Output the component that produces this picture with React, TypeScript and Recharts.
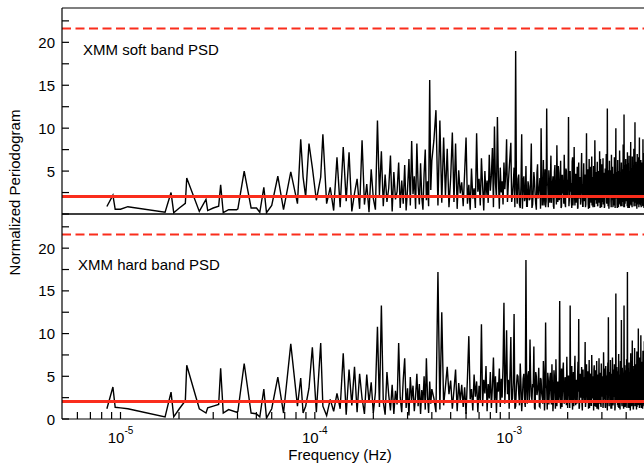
import { LineChart, Line, XAxis, YAxis, ReferenceLine } from "recharts";

// irregular low-frequency bins (Hz)
const LOW_FREQ = [
  8.51e-6, 9.14e-6, 9.39e-6, 1.0e-5, 1.091e-5, 1.696e-5, 1.82e-5, 1.879e-5, 2.008e-5, 2.156e-5,
  2.192e-5, 2.544e-5, 2.754e-5, 2.81e-5, 3.0e-5, 3.2e-5, 3.276e-5, 3.378e-5, 3.6e-5, 3.957e-5,
  4.018e-5, 4.33e-5, 4.7e-5, 5.01e-5, 5.21e-5, 5.465e-5, 5.64e-5, 6.0e-5, 6.45e-5, 6.9e-5,
  7.52e-5, 8.14e-5, 8.46e-5, 8.7e-5, 8.97e-5, 9.33e-5, 9.71e-5, 1.018e-4, 1.072e-4,
];

// evenly spaced Fourier bins above 1.1e-4 Hz
const BINS_B = { start: 1.1e-4, step: 5e-6, count: 59 };
const BINS_C = { start: 4.1e-4, step: 1e-5, count: 60 };
const BINS_D = { start: 1.02e-3, step: 2e-5, count: 200 };
const BINS_D_ODD = { start: 1.03e-3, step: 2e-5, count: 199 };

// soft band powers
const SOFT_LOW = [
  0.87, 2.2, 0.55, 0.55, 0.85, 0.2, 2.5, 0.15, 0.7, 1.25,
  4.2, 0.3, 1.7, 0.4, 0.7, 0.9, 3.4, 0.15, 0.5, 0.5,
  0.6, 5.0, 0.7, 0.7, 0.2, 3.1, 0.15, 1.0, 4.4, 0.5,
  4.9, 1.2, 8.7, 4.3, 2.0, 8.2, 5.4, 1.6, 4.3,
];
const SOFT_B = [
  9.3, 1.2, 3.1, 0.4, 6.6, 0.8, 7.8, 1.5, 7.2, 0.3,
  2.4, 4.1, 0.6, 8.6, 1.1, 3.5, 0.2, 5.2, 1.8, 0.5,
  10.9, 2.2, 7.3, 0.9, 4.6, 1.4, 3.0, 6.8, 0.3, 4.9,
  1.7, 2.6, 6.0, 0.7, 3.9, 1.2, 5.7, 0.4, 2.9, 6.4,
  1.0, 8.5, 2.3, 4.4, 0.6, 8.2, 3.3, 1.1, 5.9, 2.0,
  0.5, 4.7, 7.5, 1.6, 3.8, 0.9, 15.6, 2.8, 6.2,
];
const SOFT_C = [
  8.6, 12.1, 1.0, 10.9, 1.3, 8.9, 2.1, 7.6, 0.8, 4.2,
  9.5, 1.4, 8.2, 0.6, 5.1, 2.4, 3.7, 0.9, 4.8, 8.9,
  1.2, 3.4, 0.5, 5.3, 1.8, 3.0, 0.7, 9.4, 2.6, 4.1,
  1.0, 6.5, 3.2, 0.4, 5.0, 2.2, 3.9, 1.3, 6.9, 2.7,
  4.5, 7.7, 0.8, 10.2, 3.6, 1.9, 11.3, 4.3, 0.6, 5.4,
  2.5, 3.8, 1.1, 6.0, 2.9, 4.7, 8.7, 1.4, 3.5, 5.2,
];
const SOFT_D = [
  8.3, 2.1, 5.4, 19.0, 1.2, 4.6, 0.7, 9.3, 3.8, 1.5,
  5.6, 0.9, 3.2, 1.8, 8.2, 1.1, 4.9, 2.3, 0.5, 5.8,
  2.7, 4.2, 10.0, 1.0, 6.3, 2.9, 0.8, 12.3, 3.4, 5.1,
  1.3, 6.8, 2.5, 4.4, 0.6, 5.7, 3.1, 8.0, 1.4, 4.8,
  2.0, 6.2, 0.9, 4.5, 3.3, 6.9, 1.2, 5.3, 2.6, 4.0,
  11.3, 1.7, 5.0, 3.6, 0.7, 6.6, 2.4, 7.8, 1.0, 4.7,
  3.0, 5.5, 0.8, 6.0, 2.2, 4.3, 1.5, 7.1, 3.5, 0.9,
  5.9, 2.8, 4.6, 1.1, 9.4, 3.2, 5.2, 0.6, 6.4, 2.5,
  4.1, 1.3, 6.7, 3.8, 0.8, 5.6, 2.9, 8.6, 1.6, 4.9,
  3.4, 6.1, 1.0, 5.0, 2.7, 7.3, 0.7, 4.5, 3.1, 5.8,
  1.4, 6.5, 2.3, 4.8, 0.9, 5.3, 3.6, 7.0, 1.2, 12.3,
  2.8, 5.1, 0.6, 6.2, 3.9, 4.4, 1.5, 6.9, 2.1, 5.5,
  0.8, 4.7, 3.0, 6.6, 1.3, 5.4, 10.0, 2.4, 4.9, 0.7,
  6.3, 3.3, 5.0, 1.1, 7.4, 2.6, 4.6, 0.9, 6.0, 3.7,
  5.2, 1.4, 8.1, 2.9, 11.6, 0.8, 5.7, 3.5, 6.4, 1.6,
  4.8, 2.2, 7.2, 0.7, 5.9, 3.1, 6.8, 1.2, 4.5, 2.7,
  8.4, 1.0, 5.3, 3.8, 6.7, 1.5, 4.9, 2.4, 7.6, 0.9,
  5.6, 10.7, 1.8, 6.1, 3.2, 4.4, 0.6, 7.0, 2.8, 5.1,
  1.3, 6.6, 3.6, 8.9, 1.1, 5.4, 2.5, 6.3, 0.8, 4.7,
  3.9, 6.0, 1.6, 8.7, 2.3, 5.8, 0.7, 7.1, 3.0, 5.0,
];
const SOFT_D_ODD = [
  1.4, 3.6, 0.8, 2.9, 4.1, 1.1, 3.3, 0.6, 4.4, 2.0,
  0.9, 3.8, 1.6, 4.6, 0.7, 2.7, 3.9, 1.2, 4.8, 1.8,
  3.1, 0.6, 4.3, 2.2, 1.0, 5.2, 1.5, 3.4, 0.8, 2.6,
  4.0, 1.3, 3.5, 0.9, 4.9, 2.1, 1.1, 3.7, 5.6, 1.6,
  3.2, 0.7, 4.5, 2.4, 1.2, 3.9, 0.8, 5.0, 1.9, 3.0,
  0.9, 4.2, 2.6, 1.4, 6.1, 1.0, 3.5, 2.2, 4.4, 1.3,
  2.8, 0.6, 4.7, 1.8, 3.6, 1.1, 5.3, 2.4, 0.9, 3.8,
  1.5, 4.1, 0.8, 3.3, 2.0, 4.6, 1.2, 3.0, 0.7, 5.5,
  2.3, 3.7, 1.0, 4.3, 1.6, 2.9, 0.8, 4.9, 2.5, 1.2,
  3.9, 0.9, 4.4, 2.1, 1.3, 3.4, 6.4, 1.7, 0.8, 3.6,
  2.6, 1.1, 4.0, 0.7, 3.2, 1.9, 4.7, 1.4, 2.8, 3.5,
  0.9, 4.6, 1.5, 3.1, 2.0, 5.1, 0.8, 3.8, 1.6, 2.7,
  4.2, 1.0, 3.5, 2.3, 0.7, 4.8, 1.8, 3.0, 1.1, 4.4,
  2.5, 0.8, 3.9, 1.4, 5.4, 2.1, 1.0, 3.6, 2.8, 0.9,
  4.3, 1.7, 3.2, 0.8, 4.9, 2.4, 1.2, 3.7, 1.5, 5.8,
  2.0, 0.9, 4.1, 1.6, 3.3, 2.7, 0.7, 4.5, 1.9, 3.0,
  1.2, 4.7, 2.2, 0.8, 3.8, 1.5, 5.0, 2.6, 1.0, 3.4,
  4.0, 1.3, 2.9, 0.9, 4.6, 2.0, 3.5, 1.1, 6.2, 1.8,
  3.1, 0.8, 4.4, 2.3, 1.4, 3.9, 1.0, 4.8, 2.1, 3.3,
  1.5, 4.2, 0.9, 3.6, 2.7, 1.2, 4.5, 2.0, 3.8,
];

// hard band powers
const HARD_LOW = [
  1.2, 3.75, 1.37, 1.3, 1.2, 0.25, 3.15, 0.25, 1.2, 2.15,
  6.3, 1.2, 0.7, 1.3, 1.5, 1.7, 5.95, 0.7, 1.1, 0.8,
  0.9, 6.5, 0.7, 0.6, 0.25, 3.5, 0.1, 1.2, 4.9, 0.7,
  8.8, 1.5, 4.8, 0.7, 1.5, 3.6, 8.4, 0.8, 8.9,
];
const HARD_B = [
  1.5, 0.4, 2.3, 0.9, 3.0, 1.2, 7.7, 0.5, 5.8, 1.6,
  6.1, 0.8, 5.3, 2.4, 0.6, 5.2, 1.9, 4.3, 0.7, 3.1,
  10.8, 1.4, 13.3, 2.0, 0.5, 5.5, 2.8, 1.0, 4.0, 0.6,
  3.3, 1.7, 8.9, 2.5, 0.8, 4.6, 7.1, 1.3, 3.6, 0.4,
  4.9, 2.2, 3.9, 0.9, 2.7, 5.3, 1.5, 4.1, 0.6, 3.4,
  2.0, 5.0, 1.1, 7.1, 2.6, 0.7, 4.4, 1.8, 3.5,
];
const HARD_C = [
  2.4, 0.8, 17.2, 1.1, 12.5, 1.6, 3.8, 6.1, 2.9, 4.5,
  1.2, 3.4, 5.8, 0.9, 4.2, 2.1, 4.0, 1.4, 3.7, 0.6,
  4.8, 9.7, 2.3, 3.5, 1.0, 5.2, 2.6, 4.4, 0.8, 3.9,
  2.0, 11.1, 1.5, 4.6, 3.0, 6.2, 0.9, 4.1, 2.4, 5.5,
  1.3, 3.8, 7.2, 2.1, 5.0, 0.7, 4.3, 3.2, 5.9, 1.4,
  4.7, 2.5, 6.3, 13.6, 1.8, 5.1, 10.4, 2.9, 4.6, 1.2,
];
const HARD_D = [
  9.6, 2.4, 12.3, 1.5, 5.2, 3.0, 6.5, 0.9, 4.7, 2.2,
  18.6, 1.8, 5.6, 9.3, 2.7, 4.1, 8.5, 1.1, 5.0, 3.3,
  6.0, 1.4, 4.6, 2.5, 6.8, 1.0, 11.3, 3.6, 5.4, 1.7,
  4.8, 2.9, 6.4, 0.9, 5.7, 3.2, 7.0, 1.5, 4.4, 2.6,
  13.8, 1.2, 5.9, 3.5, 6.6, 1.8, 4.9, 2.8, 7.3, 1.3,
  5.1, 3.4, 13.3, 2.0, 6.2, 1.1, 5.5, 3.0, 7.4, 1.6,
  4.6, 2.3, 6.7, 11.7, 1.4, 5.3, 3.7, 6.1, 1.0, 5.8,
  2.7, 4.9, 9.0, 1.9, 6.4, 3.1, 5.6, 1.2, 6.9, 2.5,
  5.2, 1.6, 7.5, 3.3, 5.0, 1.0, 6.3, 2.8, 5.7, 1.4,
  6.8, 3.6, 4.8, 1.1, 7.1, 2.4, 5.4, 1.7, 6.5, 3.2,
  5.0, 1.3, 7.8, 2.6, 5.9, 1.5, 6.2, 3.4, 5.1, 1.0,
  6.6, 11.9, 2.1, 5.5, 3.8, 6.9, 1.2, 5.3, 2.9, 7.2,
  1.6, 5.8, 3.1, 6.4, 1.0, 5.0, 14.7, 2.2, 6.1, 3.5,
  5.6, 1.4, 7.6, 2.7, 5.2, 1.1, 6.8, 3.3, 11.6, 1.8,
  6.0, 2.5, 5.4, 1.2, 13.3, 3.0, 6.3, 1.6, 5.7, 2.4,
  7.0, 1.3, 17.2, 2.8, 5.9, 1.5, 6.6, 3.4, 5.1, 1.0,
  7.7, 2.6, 5.5, 1.7, 9.2, 3.1, 6.2, 1.2, 5.8, 2.9,
  8.3, 1.5, 6.4, 3.5, 5.0, 1.1, 7.9, 2.7, 6.1, 1.6,
  10.6, 3.2, 5.6, 1.3, 7.2, 2.5, 6.0, 9.8, 1.4, 5.3,
  2.8, 6.7, 1.2, 8.0, 3.6, 5.5, 1.7, 9.1, 2.3, 6.2,
];
const HARD_D_ODD = [
  2.1, 4.3, 1.2, 3.8, 5.0, 1.6, 4.1, 2.5, 5.3, 1.4,
  3.4, 5.1, 1.9, 4.6, 2.2, 3.7, 1.3, 5.5, 2.8, 4.0,
  1.5, 4.8, 3.0, 1.8, 5.2, 2.4, 3.9, 1.1, 4.5, 3.2,
  5.4, 1.7, 3.6, 2.3, 4.9, 1.2, 4.2, 3.1, 1.9, 5.0,
  2.6, 4.4, 1.4, 5.6, 3.3, 2.0, 4.7, 1.6, 3.8, 2.9,
  4.6, 1.3, 3.5, 5.2, 2.1, 4.0, 1.5, 5.7, 2.7, 3.9,
  1.8, 5.1, 3.2, 1.2, 4.8, 2.5, 4.1, 1.7, 5.4, 3.0,
  2.2, 4.5, 1.4, 5.0, 3.6, 1.9, 4.3, 2.8, 1.3, 5.3,
  3.7, 1.6, 4.9, 2.4, 3.4, 5.8, 1.5, 4.2, 2.0, 3.9,
  1.2, 5.2, 2.9, 4.4, 1.8, 3.5, 5.0, 1.4, 4.6, 2.6,
  3.8, 1.9, 5.5, 2.3, 4.1, 1.3, 4.8, 3.1, 1.7, 5.1,
  2.7, 4.3, 1.5, 5.0, 3.3, 2.0, 4.7, 1.2, 3.9, 5.4,
  1.8, 4.0, 2.6, 5.3, 1.4, 3.7, 4.5, 2.2, 5.1, 1.6,
  3.4, 4.9, 1.3, 4.2, 2.8, 5.6, 1.9, 3.6, 4.4, 1.5,
  5.2, 2.4, 3.9, 1.7, 4.6, 3.0, 1.4, 5.0, 2.5, 4.1,
  1.6, 5.3, 3.2, 2.0, 4.8, 1.3, 4.3, 2.9, 5.5, 1.8,
  3.7, 4.5, 1.5, 5.1, 2.6, 3.9, 1.2, 4.7, 3.3, 2.1,
  5.4, 1.7, 4.2, 2.8, 3.6, 5.0, 1.4, 4.4, 2.3, 3.8,
  1.9, 5.2, 3.0, 4.6, 1.6, 4.0, 2.7, 5.6, 1.3, 4.3,
  3.5, 2.2, 5.1, 1.5, 4.8, 3.1, 1.8, 5.3, 2.6,
];

const NOISE_LEVEL = 2.05;
const CONF_LEVEL = 21.6;

const X_TICKS = [
  6e-6, 7e-6, 8e-6, 9e-6,
  1e-5, 2e-5, 3e-5, 4e-5, 5e-5, 6e-5, 7e-5, 8e-5, 9e-5,
  1e-4, 2e-4, 3e-4, 4e-4, 5e-4, 6e-4, 7e-4, 8e-4, 9e-4,
  1e-3, 2e-3, 3e-3, 4e-3,
];
const Y_TICKS = [0, 2.5, 5, 7.5, 10, 12.5, 15, 17.5, 20, 22.5];

const FONT = "'Liberation Sans', Arial, Helvetica, sans-serif";
const RED = "#fa2d1c";
const TICK_IN = -7; // negative tick size: ticks point into the plot

const bins = (b: { start: number; step: number; count: number }) =>
  Array.from({ length: b.count }, (_, i) => b.start + i * b.step);

function buildSeries(low: number[], b: number[], c: number[], d: number[], dOdd: number[]) {
  const pairs = (freqs: number[], powers: number[]) => freqs.map((f, i) => ({ f, p: powers[i] }));
  return [
    ...pairs(LOW_FREQ, low),
    ...pairs(bins(BINS_B), b),
    ...pairs(bins(BINS_C), c),
    ...pairs(bins(BINS_D), d),
    ...pairs(bins(BINS_D_ODD), dOdd),
  ].sort((a, z) => a.f - z.f);
}

const softData = buildSeries(SOFT_LOW, SOFT_B, SOFT_C, SOFT_D, SOFT_D_ODD);
const hardData = buildSeries(HARD_LOW, HARD_B, HARD_C, HARD_D, HARD_D_ODD);

const isDecade = (v: number) => Math.abs(Math.log10(v) - Math.round(Math.log10(v))) < 1e-6;

// decade labels 10^n under the bottom frame
function XLabel(props: any) {
  const { x, y, payload } = props;
  const v = payload.value;
  if (!isDecade(v)) return <g />;
  return (
    <text x={Number(x)} y={Number(y) - TICK_IN + 24} textAnchor="middle" fontSize={15} fontFamily={FONT} fill="#000">
      <tspan>10</tspan>
      <tspan dy={-9} fontSize={10}>{Math.round(Math.log10(v))}</tspan>
    </text>
  );
}

function YLabel(props: any) {
  const { x, y, payload, hideZero } = props;
  const v = payload.value;
  if (v % 5 !== 0 || (hideZero && v === 0)) return <g />;
  return (
    <text x={Number(x) + TICK_IN - 7} y={Number(y)} dy={5.5} textAnchor="end" fontSize={15} fontFamily={FONT} fill="#000">
      {v}
    </text>
  );
}

function Panel(props: any) {
  const { data, marginTop, height, bottomHeight, xLabels, hideZero } = props;
  const frame = { stroke: "#000", strokeWidth: 1.2 };
  const xCommon = {
    dataKey: "f",
    type: "number" as const,
    scale: "log" as const,
    domain: [5e-6, 5e-3],
    allowDataOverflow: true,
    ticks: X_TICKS,
    interval: 0,
    tickSize: TICK_IN,
    tickMargin: 0,
    tickLine: frame,
    axisLine: frame,
  };
  const yCommon = {
    type: "number" as const,
    domain: [0, 24],
    allowDataOverflow: true,
    ticks: Y_TICKS,
    interval: 0,
    tickSize: TICK_IN,
    tickMargin: 0,
    tickLine: frame,
    axisLine: frame,
  };
  return (
    <LineChart width={660} height={height} data={data} margin={{ top: marginTop, right: 0, bottom: 0, left: 0 }}>
      <XAxis {...xCommon} xAxisId="top" orientation="top" height={1} tick={false} />
      <XAxis
        {...xCommon}
        xAxisId="bottom"
        orientation="bottom"
        height={bottomHeight}
        tick={xLabels ? (p: any) => <XLabel {...p} /> : false}
      />
      <YAxis {...yCommon} yAxisId="left" orientation="left" width={62} tick={(p: any) => <YLabel {...p} hideZero={hideZero} />} />
      <YAxis {...yCommon} yAxisId="right" orientation="right" width={15} tick={false} />
      <Line
        xAxisId="bottom"
        yAxisId="left"
        type="linear"
        dataKey="p"
        stroke="#000"
        strokeWidth={1.4}
        dot={false}
        isAnimationActive={false}
      />
      <ReferenceLine xAxisId="bottom" yAxisId="left" y={CONF_LEVEL} stroke={RED} strokeWidth={2} strokeDasharray="9 4.5" />
      <ReferenceLine xAxisId="bottom" yAxisId="left" y={NOISE_LEVEL} stroke={RED} strokeWidth={3} />
    </LineChart>
  );
}

export default function App() {
  return (
    <div style={{ position: "fixed", left: 0, top: 0, width: 644, height: 469, overflow: "hidden", background: "#fff" }}>
      <div style={{ position: "absolute", left: 0, top: 0 }}>
        <Panel data={softData} marginTop={7} height={215} bottomHeight={1} xLabels={false} hideZero />
      </div>
      <div style={{ position: "absolute", left: 0, top: 213 }}>
        <Panel data={hardData} marginTop={0} height={256} bottomHeight={50} xLabels hideZero={false} />
      </div>
      <svg width={644} height={469} style={{ position: "absolute", left: 0, top: 0, pointerEvents: "none" }}>
        <g fontFamily={FONT} fontSize={15} fill="#000">
          <text x={83} y={54.5}>XMM soft band PSD</text>
          <text x={78} y={270}>XMM hard band PSD</text>
          <text x={340} y={460} textAnchor="middle">Frequency (Hz)</text>
          <text transform="translate(20,192.5) rotate(-90)" textAnchor="middle">Normalized Periodogram</text>
        </g>
      </svg>
    </div>
  );
}
